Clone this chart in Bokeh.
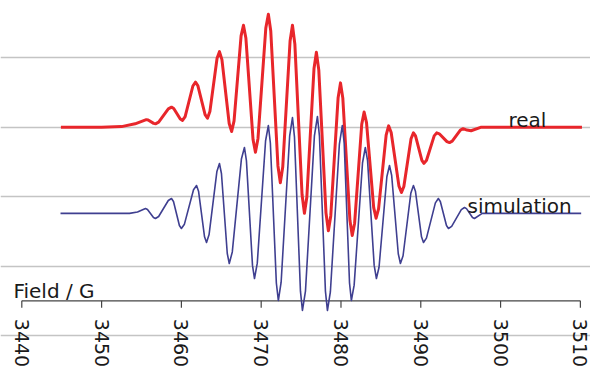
import math
from bokeh.plotting import figure
from bokeh.models import Range1d, Grid, FixedTicker
from bokeh.core.properties import value
from bokeh.embed import file_html
from bokeh.resources import INLINE

# ---- data (field in G, signal in arbitrary offset units) ----
real_field = [3444.9, 3450.0, 3452.5, 3454.2, 3455.6, 3455.83, 3456.52, 3456.75, 3457.15, 3458.36,
              3458.76, 3459.04, 3459.86, 3460.14, 3460.47, 3461.44, 3461.77, 3462.07, 3462.97, 3463.27,
              3463.57, 3464.47, 3464.77, 3465.08, 3465.99, 3466.3, 3466.6, 3467.48, 3467.78, 3468.08,
              3468.98, 3469.28, 3469.6, 3470.58, 3470.9, 3471.2, 3472.1, 3472.4, 3472.7, 3473.62,
              3473.92, 3474.22, 3475.12, 3475.42, 3475.72, 3476.62, 3476.92, 3477.22, 3478.12, 3478.42,
              3478.72, 3479.64, 3479.94, 3480.23, 3481.12, 3481.41, 3481.71, 3482.6, 3482.9, 3483.2,
              3484.1, 3484.4, 3484.71, 3485.66, 3485.97, 3486.29, 3487.26, 3487.58, 3487.88, 3488.78,
              3489.08, 3489.34, 3490.14, 3490.4, 3490.72, 3491.68, 3492.0, 3492.32, 3493.28, 3493.6,
              3493.94, 3494.96, 3495.3, 3495.8, 3496.3, 3497.5, 3500.0, 3505.0, 3510.2]
real_signal = [3.00, 3.00, 3.01, 3.05, 3.11, 3.104, 3.056, 3.05, 3.074, 3.266,
               3.29, 3.271, 3.119, 3.10, 3.155, 3.595, 3.65, 3.598, 3.182, 3.13,
               3.226, 3.994, 4.09, 3.975, 3.055, 2.94, 3.093, 4.317, 4.47, 4.287,
               2.823, 2.64, 2.839, 4.431, 4.63, 4.387, 2.443, 2.20, 2.427, 4.243,
               4.47, 4.199, 2.031, 1.76, 1.992, 3.848, 4.08, 3.823, 1.767, 1.51,
               1.723, 3.427, 3.64, 3.42, 1.66, 1.44, 1.618, 3.042, 3.22, 3.067,
               1.843, 1.69, 1.823, 2.887, 3.02, 2.924, 2.156, 2.06, 2.146, 2.834,
               2.92, 2.876, 2.524, 2.48, 2.524, 2.876, 2.92, 2.906, 2.794, 2.78,
               2.80, 2.96, 2.98, 2.96, 2.95, 3.0, 3.0, 3.0, 3.0]

sim_field = [3444.85, 3453.5, 3454.5, 3455.5, 3455.75, 3456.5, 3456.75, 3457.15, 3458.36, 3458.76,
             3459.01, 3459.75, 3460.0, 3460.38, 3461.52, 3461.9, 3462.15, 3462.9, 3463.15, 3463.47,
             3464.45, 3464.77, 3465.02, 3465.75, 3466.0, 3466.38, 3467.52, 3467.9, 3468.15, 3468.91,
             3469.16, 3469.51, 3470.55, 3470.9, 3471.15, 3471.9, 3472.15, 3472.5, 3473.57, 3473.92,
             3474.17, 3474.92, 3475.17, 3475.55, 3476.67, 3477.05, 3477.3, 3478.05, 3478.3, 3478.67,
             3479.8, 3480.17, 3480.4, 3481.07, 3481.3, 3481.65, 3482.7, 3483.05, 3483.33, 3484.16,
             3484.44, 3484.77, 3485.75, 3486.08, 3486.35, 3487.18, 3487.45, 3487.78, 3488.75, 3489.08,
             3489.33, 3490.09, 3490.34, 3490.71, 3491.83, 3492.2, 3492.45, 3493.22, 3493.47, 3493.87,
             3495.08, 3495.48, 3495.73, 3496.48, 3496.73, 3497.7, 3510.1]
sim_signal = [1.76, 1.76, 1.78, 1.83, 1.816, 1.70, 1.686, 1.715, 1.945, 1.974,
              1.931, 1.585, 1.542, 1.604, 2.099, 2.161, 2.079, 1.422, 1.34, 1.454,
              2.364, 2.478, 2.334, 1.181, 1.037, 1.204, 2.542, 2.709, 2.52, 1.01,
              0.821, 1.042, 2.806, 3.026, 2.774, 0.756, 0.504, 0.768, 2.877, 3.141,
              2.863, 0.638, 0.36, 0.64, 2.876, 3.156, 2.876, 0.64, 0.36, 0.627,
              2.759, 3.026, 2.774, 0.756, 0.504, 0.725, 2.489, 2.709, 2.52, 1.01,
              0.821, 0.984, 2.287, 2.45, 2.309, 1.178, 1.037, 1.149, 2.049, 2.161,
              2.079, 1.422, 1.34, 1.403, 1.911, 1.974, 1.931, 1.585, 1.542, 1.572,
              1.814, 1.844, 1.828, 1.70, 1.686, 1.76, 1.76]

field_ticks = [3440, 3450, 3460, 3470, 3480, 3490, 3500, 3510]
field_tick_labels = ["3440", "3450", "3460", "3470", "3480", "3490", "3500", "3510"]
grid_values = [0, 1, 2, 3, 4]
axis_crossing = 0.5

series_labels = ["real", "simulation"]
axis_title = "Field / G"

# ---- figure ----
p = figure(width=590, height=371, output_backend="svg", toolbar_location=None,
           x_range=Range1d(3437.33, 3511.27), y_range=Range1d(-0.519, 4.827),
           x_axis_type=None, y_axis_type=None, min_border=0)
p.outline_line_color = None
p.background_fill_color = "white"
p.border_fill_color = "white"

grid = Grid(dimension=1, ticker=FixedTicker(ticks=grid_values),
            bounds=(field_ticks[0], field_ticks[-1] + 0.1),
            grid_line_color="#c4c4c4", grid_line_width=1.3)
p.add_layout(grid)

# manual horizontal axis crossing mid-plot
p.segment(x0=[field_ticks[0]], y0=[axis_crossing], x1=[field_ticks[-1]], y1=[axis_crossing],
          line_color="#444444", line_width=1.2)
p.segment(x0=field_ticks, y0=[axis_crossing] * len(field_ticks),
          x1=field_ticks, y1=[axis_crossing - 0.1] * len(field_ticks),
          line_color="#444444", line_width=1.2)
p.text(x=field_ticks, y=[axis_crossing - 0.26] * len(field_ticks), text=field_tick_labels,
       angle=-math.pi / 2, text_align="left", text_baseline="middle",
       text_font=value("DejaVu Sans"), text_font_size=value("19px"), text_color="#1a1a1a")

p.text(x=[3438.95], y=[0.648], text=[axis_title], text_align="left", text_baseline="alphabetic",
       text_font=value("DejaVu Sans"), text_font_size=value("20px"), text_color="#1a1a1a")

# spectra
p.line(real_field, real_signal, line_color="#e8262b", line_width=3, line_join="round")
p.line(sim_field, sim_signal, line_color="#3f3f90", line_width=1.6, line_join="round")

p.text(x=[3500.99, 3495.85], y=[3.112, 1.859], text=series_labels, text_align="left",
       text_baseline="alphabetic", text_font=value("DejaVu Sans"), text_font_size=value("20px"),
       text_color="#1a1a1a")

open("out.html", "w").write(file_html(p, INLINE))
